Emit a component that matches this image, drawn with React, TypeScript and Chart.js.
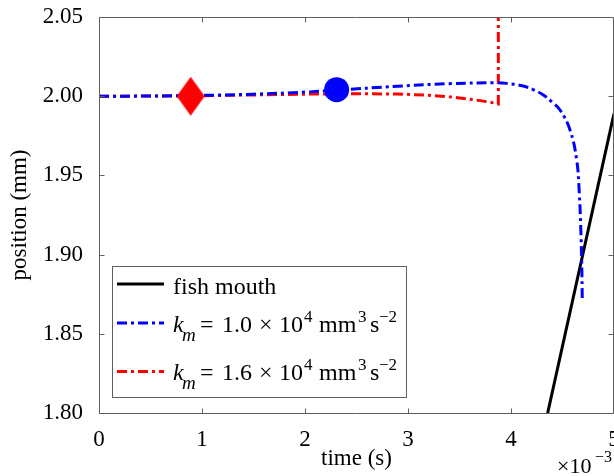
import React, { useEffect, useRef } from "react";
import { Chart, registerables } from "chart.js";

Chart.register(...registerables);

// ---- data (time in units of 1e-3 s, position in mm) ----
const mouthTime = [4.356, 5.0];
const mouthPos = [1.8, 1.989];

const blueTime = [0, 0.5, 1.0, 1.5, 2.0, 2.3, 2.9, 3.4, 3.85, 3.96, 4.12, 4.22, 4.314, 4.398, 4.476, 4.573, 4.638, 4.663, 4.677, 4.686, 4.692];
const bluePos = [2.0, 2.0001, 2.0005, 2.0013, 2.0026, 2.0038, 2.0063, 2.0079, 2.0085, 2.0081, 2.0064, 2.004, 2.0008, 1.9963, 1.9913, 1.9787, 1.9597, 1.9389, 1.9176, 1.8966, 1.8713];

const redTime = [0, 0.5, 1.0, 1.5, 2.0, 2.4, 2.9, 3.2, 3.45, 3.65, 3.8, 3.877, 3.877];
const redPos = [2.0, 2.0001, 2.0003, 2.0008, 2.0013, 2.0016, 2.0014, 2.0006, 1.9993, 1.9977, 1.9962, 1.9951, 2.06];

const diamondTime = [0.89];
const diamondPos = [2.0];
const circleTime = [2.307];
const circlePos = [2.0041];

const xTicks = [0, 1, 2, 3, 4, 5];
const yTicks = [1.8, 1.85, 1.9, 1.95, 2.0, 2.05];

const xTitle = "time (s)";
const yTitle = "position (mm)";
const legendMouth = "fish mouth";
const kValues = ["1.0", "1.6"];

const FONT = '"Liberation Serif", "Times New Roman", serif';
const BLUE = "#0000ff";
const RED = "#ff0000";
const FRAME = "#5e5e5e";
const DASH = [10, 4, 3, 4];

const pts = (xs: number[], ys: number[]) => xs.map((x, i) => ({ x, y: ys[i] }));

type Seg = { t: string; x: number; italic?: boolean; size?: number; dy?: number };

function drawSegs(ctx: CanvasRenderingContext2D, ox: number, baseline: number, segs: Seg[], base = 23) {
  for (const s of segs) {
    ctx.font = `${s.italic ? "italic " : ""}${s.size || base}px ${FONT}`;
    ctx.fillText(s.t, ox + s.x, baseline + (s.dy || 0));
  }
}

const framePlugin = {
  id: "frame",
  afterDatasetsDraw(chart: any) {
    const { ctx, chartArea: a, scales } = chart;
    ctx.save();
    ctx.strokeStyle = FRAME;
    ctx.lineWidth = 1;
    const L = Math.round(a.left) + 0.5;
    const R = Math.round(a.right) - 0.5;
    const T = Math.round(a.top) + 0.5;
    const B = Math.round(a.bottom) + 0.5;
    ctx.beginPath();
    ctx.moveTo(L, T);
    ctx.lineTo(R, T);
    ctx.lineTo(R, B);
    ctx.lineTo(L, B);
    ctx.closePath();
    ctx.stroke();
    ctx.beginPath();
    for (const v of xTicks) {
      const px = Math.round(scales.x.getPixelForValue(v)) + 0.5;
      ctx.moveTo(px, B);
      ctx.lineTo(px, B - 5);
      ctx.moveTo(px, T);
      ctx.lineTo(px, T + 5);
    }
    for (const v of yTicks) {
      const py = Math.round(scales.y.getPixelForValue(v)) + 0.5;
      ctx.moveTo(L, py);
      ctx.lineTo(L + 5, py);
      ctx.moveTo(R, py);
      ctx.lineTo(R - 5, py);
    }
    ctx.stroke();
    ctx.restore();
  },
  afterDraw(chart: any) {
    const { ctx, chartArea: a } = chart;
    ctx.save();
    // exponent label
    ctx.fillStyle = "#000";
    ctx.textBaseline = "alphabetic";
    ctx.textAlign = "left";
    drawSegs(ctx, a.right - 57, a.bottom + 60, [
      { t: "×10", x: 0, size: 22 },
      { t: "−3", x: 38, size: 16, dy: -11 },
    ]);

    // legend box
    const bx = a.left + 13;
    const by = a.top + 249;
    const bw = 294;
    const bh = 131;
    ctx.fillStyle = "#fff";
    ctx.fillRect(bx, by, bw, bh);
    ctx.strokeStyle = FRAME;
    ctx.lineWidth = 1;
    ctx.strokeRect(bx + 0.5, by + 0.5, bw, bh);

    const sx0 = bx + 5;
    const sx1 = bx + 52;
    const tx = bx + 61;
    const rows = [by + 18, by + 57, by + 105.5];
    const bases = [by + 28, by + 66, by + 114];

    // row 1
    ctx.lineWidth = 3;
    ctx.setLineDash([]);
    ctx.strokeStyle = "#000";
    ctx.beginPath();
    ctx.moveTo(sx0, rows[0]);
    ctx.lineTo(sx1, rows[0]);
    ctx.stroke();
    ctx.fillStyle = "#000";
    ctx.font = `24px ${FONT}`;
    ctx.fillText(legendMouth, tx, bases[0]);

    const colors = [BLUE, RED];
    for (let i = 0; i < 2; i++) {
      ctx.strokeStyle = colors[i];
      ctx.setLineDash(DASH);
      ctx.beginPath();
      ctx.moveTo(sx0, rows[i + 1]);
      ctx.lineTo(sx1, rows[i + 1]);
      ctx.stroke();
      ctx.setLineDash([]);
      ctx.fillStyle = "#000";
      drawSegs(
        ctx,
        tx,
        bases[i + 1],
        [
          { t: "k", x: 0, italic: true },
          { t: "m", x: 9, italic: true, size: 19, dy: 9 },
          { t: "=", x: 27 },
          { t: kValues[i], x: 49 },
          { t: "×", x: 86 },
          { t: "10", x: 106 },
          { t: "4", x: 131, size: 17, dy: -10 },
          { t: "mm", x: 146 },
          { t: "3", x: 185, size: 17, dy: -10 },
          { t: "s", x: 197 },
          { t: "−2", x: 206, size: 17, dy: -10 },
        ],
        24
      );
    }
    ctx.restore();
  },
};

export default function App() {
  const ref = useRef<HTMLCanvasElement | null>(null);

  useEffect(() => {
    if (!ref.current) return;
    const diamond = document.createElement("canvas");
    diamond.width = 28;
    diamond.height = 39;
    const dctx = diamond.getContext("2d")!;
    dctx.fillStyle = RED;
    dctx.beginPath();
    dctx.moveTo(14, 0);
    dctx.lineTo(28, 19.5);
    dctx.lineTo(14, 39);
    dctx.lineTo(0, 19.5);
    dctx.closePath();
    dctx.fill();

    const font = { family: FONT, size: 23 };
    const chart = new Chart(ref.current, {
      type: "line",
      data: {
        datasets: [
          {
            label: "diamond",
            data: pts(diamondTime, diamondPos),
            showLine: false,
            pointStyle: diamond as any,
            pointRadius: 14,
            order: 0,
          },
          {
            label: "circle",
            data: pts(circleTime, circlePos),
            showLine: false,
            pointStyle: "circle",
            pointRadius: 12.5,
            pointBackgroundColor: BLUE,
            pointBorderWidth: 0,
            borderColor: BLUE,
            order: 0,
          },
          {
            label: "blue",
            data: pts(blueTime, bluePos),
            borderColor: BLUE,
            borderWidth: 3,
            borderDash: DASH,
            pointRadius: 0,
            tension: 0.4,
            order: 1,
          },
          {
            label: "red",
            data: pts(redTime, redPos),
            borderColor: RED,
            borderWidth: 3,
            borderDash: DASH,
            pointRadius: 0,
            tension: 0,
            order: 2,
          },
          {
            label: "fish mouth",
            data: pts(mouthTime, mouthPos),
            borderColor: "#000",
            borderWidth: 3,
            pointRadius: 0,
            tension: 0,
            order: 3,
          },
        ],
      },
      options: {
        animation: false,
        responsive: false,
        devicePixelRatio: 1,
        layout: { autoPadding: false, padding: { top: 17, left: 0, right: 0, bottom: 0 } },
        plugins: { legend: { display: false }, tooltip: { enabled: false } },
        scales: {
          x: {
            type: "linear",
            min: 0,
            max: 5,
            afterBuildTicks: (s: any) => {
              s.ticks = xTicks.map((v) => ({ value: v }));
            },
            afterFit: (s: any) => {
              s.height = 63;
              s.paddingLeft = 0;
              s.paddingRight = 0;
            },
            ticks: {
              font,
              color: "#000",
              padding: 5,
              maxRotation: 0,
              autoSkip: false,
              callback: (v: any) => String(v),
            },
            grid: { display: false },
            border: { display: false },
            title: { display: true, text: xTitle, font, color: "#000", padding: { top: 0, bottom: 3 } },
          },
          y: {
            type: "linear",
            min: 1.8,
            max: 2.05,
            afterBuildTicks: (s: any) => {
              s.ticks = yTicks.map((v) => ({ value: v }));
            },
            afterFit: (s: any) => {
              s.width = 99;
              s.paddingTop = 0;
              s.paddingBottom = 0;
            },
            ticks: {
              font,
              color: "#000",
              padding: 8,
              autoSkip: false,
              callback: (v: any) => Number(v).toFixed(2),
            },
            grid: { display: false },
            border: { display: false },
            title: { display: true, text: yTitle, font, color: "#000", padding: { top: 6, bottom: 0 } },
          },
        },
      },
      plugins: [framePlugin],
    } as any);
    return () => chart.destroy();
  }, []);

  return (
    <canvas
      ref={ref}
      width={614}
      height={476}
      style={{ position: "absolute", left: 0, top: 0, width: 614, height: 476 }}
    />
  );
}
